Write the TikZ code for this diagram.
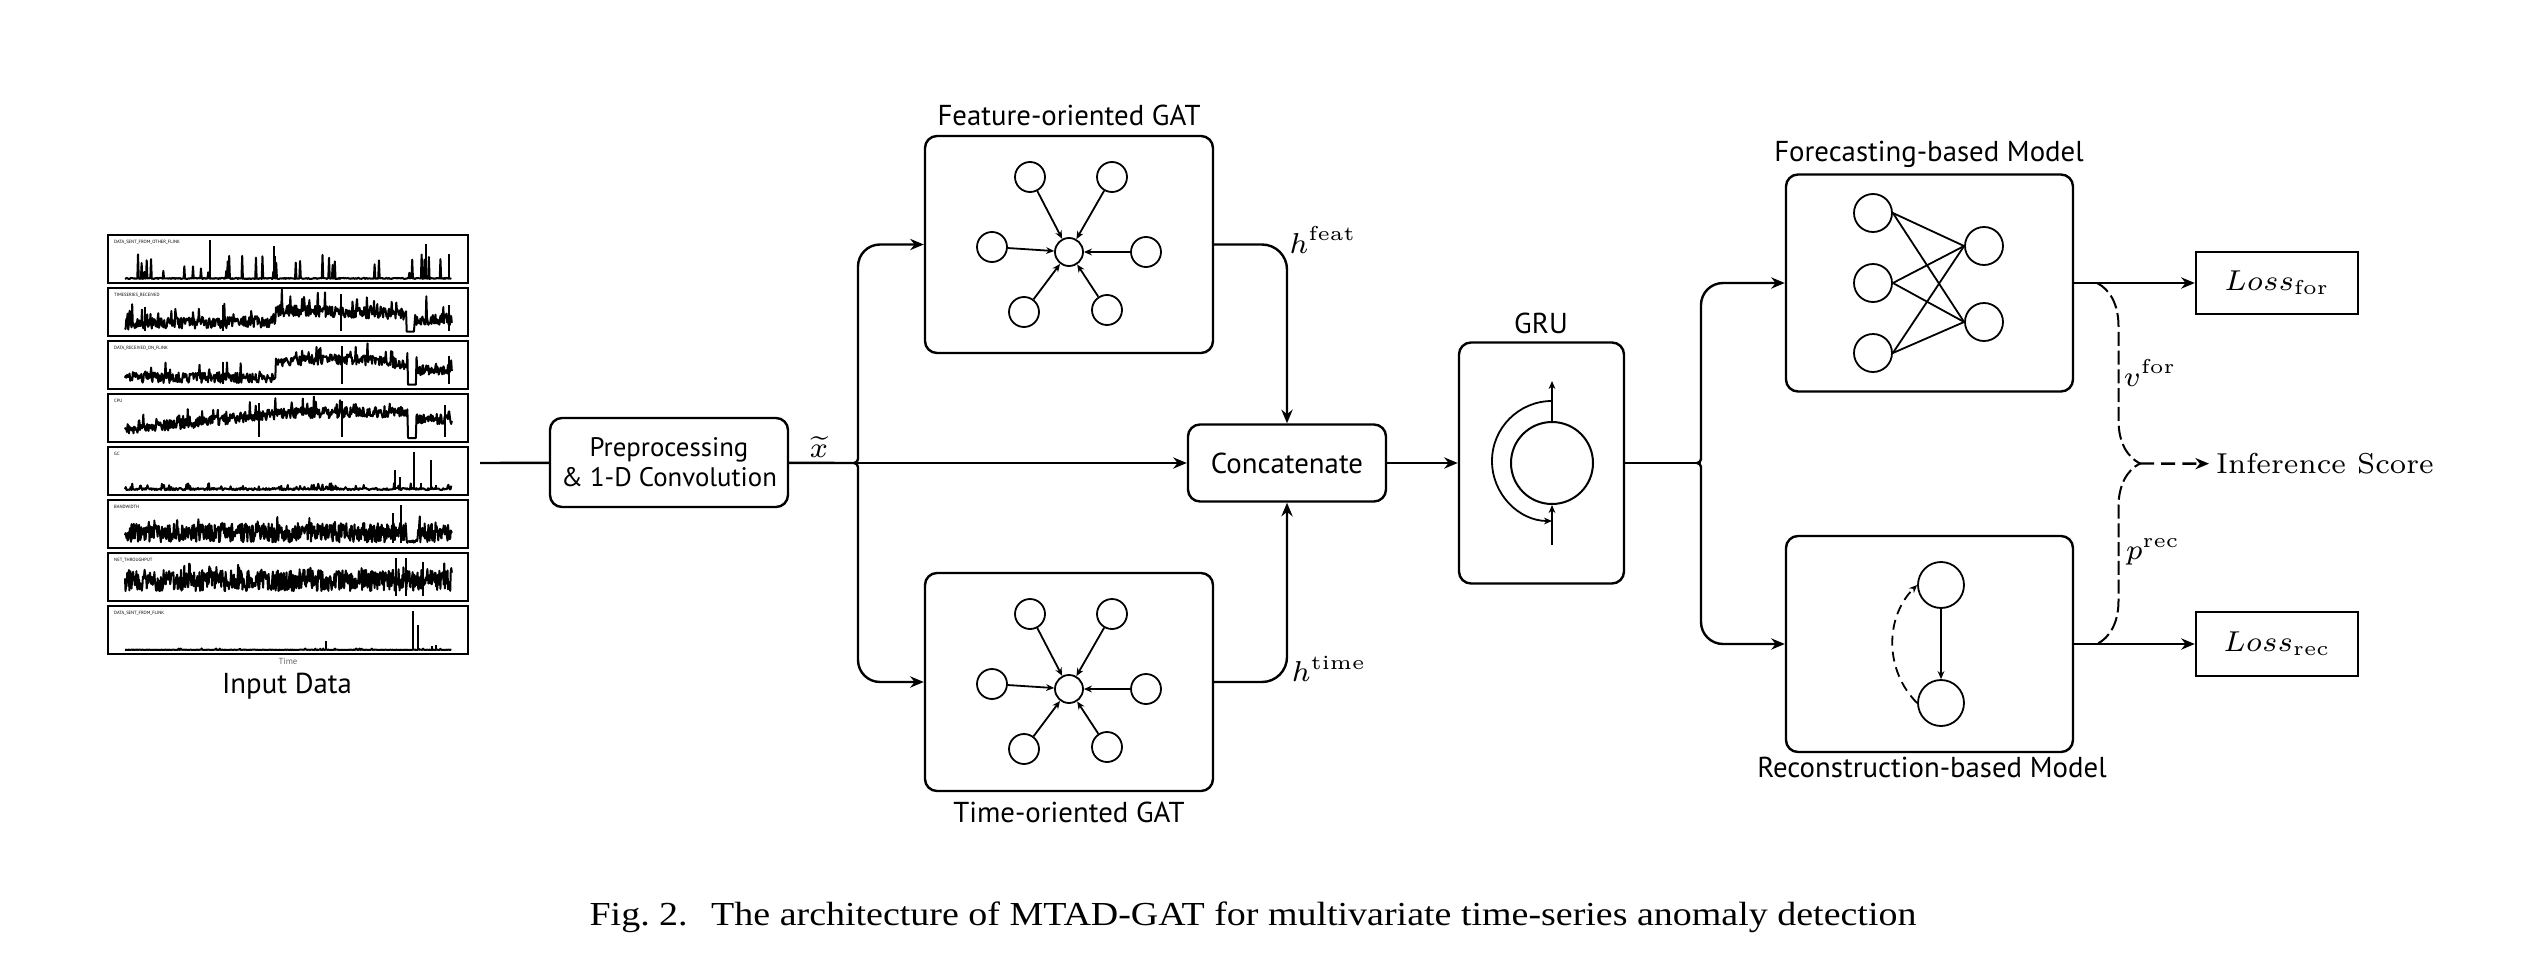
\RequirePackage{fix-cm}
\documentclass[tikz,border=0pt]{standalone}
\usepackage{amsmath}
\usepackage{fontspec}
\newfontfamily\labfont{PT Sans}
\newfontfamily\capfont[FakeStretch=1.13]{Liberation Serif}
\usetikzlibrary{arrows.meta}
\usetikzlibrary{decorations.pathreplacing}
\usetikzlibrary{positioning}

% one time series inside panel #1: samples, expression, extra spikes
\newcommand{\tsplot}[4]{%
  \begin{scope}[shift={(31.25pt,{-69.75pt-13.25pt*#1})}, x=81.75pt, y=9.75pt]
    \draw[series] plot[domain=0:1, samples=#2] (\x,{#3});
    \foreach \sx/\sh in {#4}
      \draw[series] (\sx,0.02) -- (\sx,\sh);
  \end{scope}}

\begin{document}
\begin{tikzpicture}[x=0.25pt, y=0.25pt, line width=0.6pt,
  >={Stealth[length=3.4pt,width=2.8pt]},
  blk/.style={draw, rounded corners=3pt, align=center, font=\labfont\fontsize{7.2}{7.6}\selectfont},
  lbl/.style={font=\labfont\fontsize{7.2}{7.6}\selectfont, inner sep=0pt},
  gnode/.style={circle, draw, line width=0.45pt, inner sep=0pt, minimum size=7.5pt},
  tiny arrow/.style={-{Stealth[length=2pt,width=1.7pt]}, line width=0.45pt},
  series/.style={line width=0.5pt, line join=round},
  mth/.style={font=\fontsize{7.2}{8.6}\selectfont, inner sep=0pt}]
  \useasboundingbox (0,0) rectangle (2541,-964);
  \pgfmathsetseed{4242}

  % input data panels
  \foreach \k/\ptitle in {0/DATA\_SENT\_FROM\_OTHER\_FLINK, 1/TIMESERIES\_RECEIVED,
      2/DATA\_RECEIVED\_ON\_FLINK, 3/CPU, 4/GC, 5/BANDWIDTH, 6/NET\_THROUGHPUT,
      7/DATA\_SENT\_FROM\_FLINK} {
    \draw[line width=0.5pt] (108,{-235-53*\k}) rectangle ++(360,-48);
    \node[font=\labfont\fontsize{1.15}{1.4}\selectfont, anchor=west, inner sep=0pt]
      (plab\k) at (113,{-242-53*\k}) {\ptitle};
  }
  \tsplot{0}{450}{0.03*rnd+(rnd>0.92)*(0.1+0.55*rnd)}{0.26/1.0, 0.455/0.85, 0.46/0.6, 0.92/0.9, 0.99/0.65}
  \tsplot{1}{500}{(\x>0.86 && \x<0.885) ? 0.01 : ((\x<0.46 ? 0.06+0.12*\x : (\x<0.86 ? 0.4-0.22*(\x-0.46) : 0.18)) + 0.3*rnd + (rnd>0.88)*0.45*rnd)}{0.66/0.97, 0.06/0.65, 0.3/0.7, 0.99/0.7}
  \tsplot{2}{500}{(\x>0.865 && \x<0.89) ? 0.01 : ((\x<0.46 ? 0.05 : (\x<0.865 ? 0.45+0.12*sin(400*(\x-0.46))-0.25*(\x-0.46) : 0.25)) + 0.27*rnd + (rnd>0.9)*0.35*rnd)}{0.665/1.0, 0.3/0.6, 0.99/0.75}
  \tsplot{3}{500}{(\x>0.865 && \x<0.89) ? 0.0 : ((\x<0.865 ? 0.08+0.38*min(\x/0.5,1)+0.08*\x : 0.35) + 0.28*rnd + (rnd>0.9)*0.3*rnd)}{0.41/0.9, 0.665/0.95, 0.98/0.85}
  \tsplot{4}{450}{0.02+0.06*rnd+(rnd>0.88)*0.14*rnd}{0.825/0.55, 0.84/0.35, 0.885/1.0, 0.905/0.2, 0.935/0.8, 0.95/0.15}
  \tsplot{5}{600}{(\x>0.86 && \x<0.89) ? 0.03+0.06*rnd : 0.04+0.5*rnd+(rnd>0.88)*0.2*rnd}{0.845/1.0, 0.82/0.8}
  \tsplot{6}{600}{0.15+0.55*rnd+(rnd>0.9)*0.25*rnd}{0.83/1.0, 0.86/1.0, 0.91/0.9}
  \tsplot{7}{450}{0.01*rnd+(rnd>0.96)*0.03}{0.615/0.22, 0.882/1.0, 0.895/0.65, 0.94/0.1, 0.95/0.12}
  \node[font=\labfont\fontsize{2.2}{2.6}\selectfont, text=black!60, inner sep=0pt] (timet) at (288,-661) {Time};
  \node[lbl, anchor=base] (inpt) at (287,-693) {Input Data};

  % blocks
  \node[blk, font=\labfont\fontsize{6.7}{7.5}\selectfont, inner sep=1.5pt, minimum width=59.5pt, minimum height=22.25pt] (pre) at (669,-462.5) {Preprocessing\\\& 1-D Convolution};
  \node[blk, minimum width=72pt, minimum height=54.25pt] (gatF) at (1069,-244.5) {};
  \node[blk, minimum width=72pt, minimum height=54.5pt] (gatT) at (1069,-682) {};
  \node[blk, minimum width=49.5pt, minimum height=19.25pt] (cat) at (1287,-463) {Concatenate};
  \node[blk, minimum width=41.25pt, minimum height=60.25pt] (gru) at (1541.5,-463) {};
  \node[blk, minimum width=71.75pt, minimum height=54.25pt] (fore) at (1929.5,-283) {};
  \node[blk, minimum width=71.75pt, minimum height=54pt] (reco) at (1929.5,-644) {};
  \node[draw, mth, minimum width=40.5pt, minimum height=15.5pt] (lossF) at (2277,-283) {$Loss_{\mathrm{for}}$};
  \node[draw, mth, minimum width=40.5pt, minimum height=16pt] (lossR) at (2277,-644) {$Loss_{\mathrm{rec}}$};

  \node[lbl, anchor=base] (gatFt) at (1069,-125) {Feature-oriented GAT};
  \node[lbl, anchor=base] (gatTt) at (1069,-822) {Time-oriented GAT};
  \node[lbl, anchor=base] (grut) at (1541,-333) {GRU};
  \node[lbl, anchor=base] (foret) at (1929,-161) {Forecasting-based Model};
  \node[lbl, anchor=base] (recot) at (1932,-777) {Reconstruction-based Model};

  \node[mth] (xt) at (819,-447) {$\widetilde{x}$};
  \node[mth] (hfeat) at (1323,-240) {$h^{\mathrm{feat}}$};
  \node[mth] (htime) at (1329,-669) {$h^{\mathrm{time}}$};
  \node[mth] (vfor) at (2150,-373) {$v^{\mathrm{for}}$};
  \node[mth] (prec) at (2153,-552) {$p^{\mathrm{rec}}$};
  \node[mth, inner sep=1.5pt, anchor=west] (infer) at (2209,-464) {Inference Score};

  % graph attention layers
  \foreach \g/\cy in {F/252, T/689} {
    \node[gnode, minimum size=7pt] (c\g) at (1069,-\cy) {};
    \foreach \dx/\dy [count=\k] in {-39/75, 43/75, -77/5, 77/0, -45/-60, 38/-58} {
      \node[gnode] (o\g\k) at ({1069+\dx},{\dy-\cy}) {};
      \draw[tiny arrow] (o\g\k) -- (c\g);
    }
  }

  % GRU cell
  \node[gnode, minimum size=20.5pt, line width=0.5pt] (cell) at (1552,-463) {};
  \draw[tiny arrow] ([yshift=-10pt]cell.south) -- (cell.south);
  \draw[tiny arrow] (cell.north) -- ++(0,40);
  \draw[tiny arrow] ([yshift=5pt]cell.north) arc[start angle=90, end angle=270, radius=15pt];

  % forecasting net
  \foreach \i/\y in {1/213, 2/283, 3/353}
    \node[gnode, minimum size=9.5pt] (in\i) at (1873,-\y) {};
  \foreach \j/\y in {1/246, 2/322}
    \node[gnode, minimum size=9.5pt] (out\j) at (1984,-\y) {};
  \foreach \i in {1,2,3}
    \foreach \j in {1,2}
      \draw[line width=0.45pt] (in\i.east) -- (out\j.west);

  % reconstruction net
  \node[gnode, minimum size=11.5pt] (rtop) at (1941,-585) {};
  \node[gnode, minimum size=11.5pt] (rbot) at (1941,-703) {};
  \draw[tiny arrow] (rtop) -- (rbot);
  \draw[tiny arrow, dash pattern=on 2.5pt off 1.5pt] (rbot.west) to[bend left=45] (rtop.west);

  % connectors
  \coordinate (inp) at (480,-463);
  \coordinate (t1) at (854,-463);
  \coordinate (t2) at (1697,-463);
  \coordinate (t3) at (2140,-463.5);
  \draw (inp) -- (pre);
  \draw (pre) -- (t1);
  \draw[->] (t1) -- (cat);
  \draw[->] (t1) arc[start angle=-90, end angle=0, radius=1pt] -- (858,-266.5)
    arc[start angle=180, end angle=90, radius=5.5pt] -- (gatF);
  \draw[->] (t1) arc[start angle=90, end angle=0, radius=1pt] -- (858,-660)
    arc[start angle=180, end angle=270, radius=5.5pt] -- (gatT);
  \draw[->] (gatF.east) -- (1262,-244.5) arc[start angle=90, end angle=0, radius=6.25pt] -- (cat.north);
  \draw[->] (gatT.east) -- (1262,-682) arc[start angle=-90, end angle=0, radius=6.25pt] -- (cat.south);
  \draw[->] (cat) -- (gru);
  \draw (gru) -- (t2);
  \draw[->] (t2) arc[start angle=-90, end angle=0, radius=1pt] -- (1701,-305)
    arc[start angle=180, end angle=90, radius=5.5pt] -- (fore);
  \draw[->] (t2) arc[start angle=90, end angle=0, radius=1pt] -- (1701,-622)
    arc[start angle=180, end angle=270, radius=5.5pt] -- (reco);
  \draw[->] (fore) -- (lossF);
  \draw[->] (reco) -- (lossR);
  \draw[dash pattern=on 3.5pt off 1.2pt, line width=0.5pt, decorate, decoration={brace, amplitude=10.75pt}]
    (2097,-283) -- (2097,-644);
  \draw[->, dash pattern=on 3.5pt off 1.8pt] (t3) -- (infer);

  \node[font=\capfont\fontsize{8.4}{10}\selectfont, inner sep=0pt, anchor=base] (cap) at (1253,-925)
    {Fig.~2.\hspace{0.7em}The architecture of MTAD-GAT for multivariate time-series anomaly detection};
\end{tikzpicture}
\end{document}
